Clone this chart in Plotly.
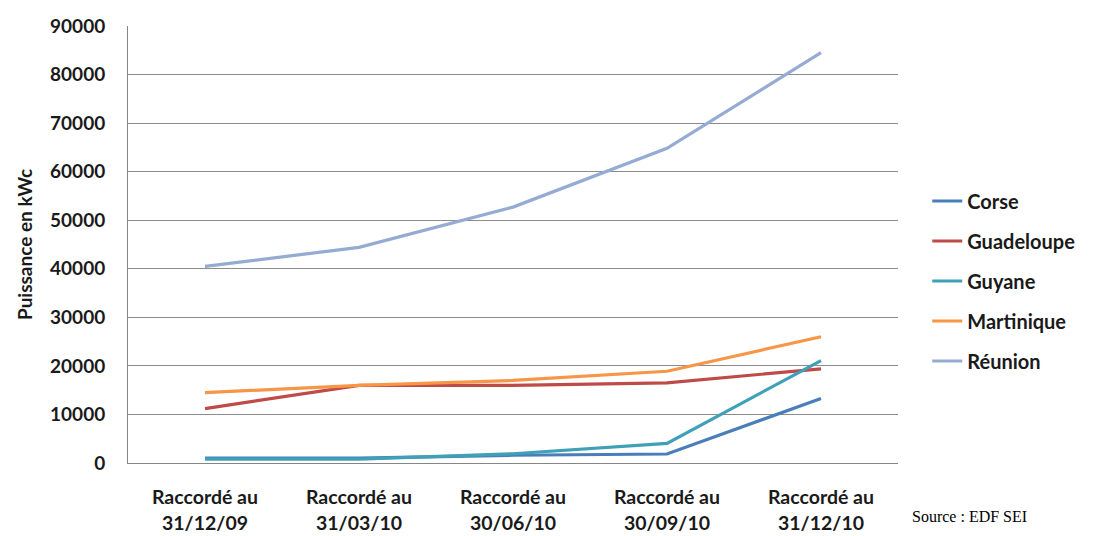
import plotly.graph_objects as go

categories = ["Raccordé au<br>31/12/09", "Raccordé au<br>31/03/10", "Raccordé au<br>30/06/10",
              "Raccordé au<br>30/09/10", "Raccordé au<br>31/12/10"]
corse = [1000, 1000, 1600, 1850, 13300]
guadeloupe = [11200, 16000, 16000, 16500, 19400]
guyane = [800, 800, 1900, 4050, 21100]
martinique = [14500, 16000, 17000, 18900, 26000]
reunion = [40500, 44400, 52700, 64800, 84500]

series = [
    ("Corse", corse, "#4A7EBB"),
    ("Guadeloupe", guadeloupe, "#BE4B48"),
    ("Guyane", guyane, "#3FA0B8"),
    ("Martinique", martinique, "#F79646"),
    ("Réunion", reunion, "#95ABD3"),
]
y_ticks = [0, 10000, 20000, 30000, 40000, 50000, 60000, 70000, 80000, 90000]

font_family = "Lato, Open Sans, sans-serif"
txt_color = "#1a1a1a"

fig = go.Figure()
for name, vals, color in series:
    fig.add_trace(go.Scatter(
        x=categories, y=vals, name=name, mode="lines",
        line=dict(color=color, width=3.2), legendgroup=name,
    ))

# page body has an 8px margin, so the figure is sized 8px smaller
fig.update_layout(
    width=1089, height=528,
    margin=dict(l=120, r=199, t=18, b=73, autoexpand=False),
    paper_bgcolor="white", plot_bgcolor="white",
    showlegend=True,
    legend=dict(x=1.038, y=0.4165, xanchor="left", yanchor="middle",
                font=dict(family=font_family, size=20, color=txt_color, weight="bold"),
                tracegroupgap=11, bgcolor="rgba(0,0,0,0)"),
    xaxis=dict(
        type="category", range=[-0.5, 4.5], automargin=False,
        showgrid=False, showline=True, linecolor="#868686", linewidth=1,
        ticks="", ticklabelstandoff=17,
        tickfont=dict(family=font_family, size=19.5, color=txt_color, weight="bold"),
    ),
    yaxis=dict(
        range=[0, 90000], tickvals=y_ticks, ticktext=[str(v) for v in y_ticks],
        automargin=False,
        showgrid=True, gridcolor="#8c8c8c", gridwidth=1,
        showline=True, linecolor="#868686", linewidth=1,
        zeroline=False, ticks="", ticklabelstandoff=18,
        tickfont=dict(family=font_family, size=19, color=txt_color, weight="bold"),
        title=dict(text="Puissance en kWc", standoff=12,
                   font=dict(family=font_family, size=19, color=txt_color, weight="bold")),
    ),
)

fig.add_annotation(
    text="Source : EDF SEI", xref="paper", yref="paper",
    x=1.016, y=-0.122, xanchor="left", yanchor="middle", showarrow=False,
    font=dict(family="Liberation Serif, Times New Roman, serif", size=16, color="#000000"),
)

fig.write_html("out.html")
